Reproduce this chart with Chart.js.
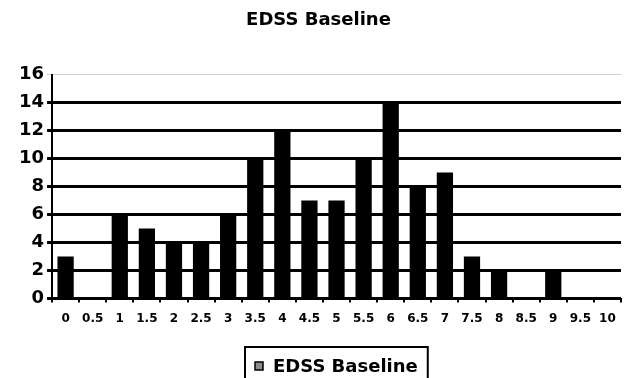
<!DOCTYPE html>
<html>
<head>
<meta charset="utf-8">
<script src="https://cdn.jsdelivr.net/npm/chart.js@4.4.1/dist/chart.umd.min.js"></script>
<style>
  html, body { margin: 0; padding: 0; background: #fff; }
  #wrap { width: 625px; height: 378px; }
</style>
</head>
<body>
<div id="wrap"><canvas id="c" width="625" height="378"></canvas></div>
<script>
// EDSS scores at baseline and number of patients per score
const categories = ['0','0.5','1','1.5','2','2.5','3','3.5','4','4.5','5','5.5','6','6.5','7','7.5','8','8.5','9','9.5','10'];
const patientCounts = [3, 0, 6, 5, 4, 4, 6, 10, 12, 7, 7, 10, 14, 8, 9, 3, 2, 0, 2, 0, 0];
const yTicks = [0, 2, 4, 6, 8, 10, 12, 14, 16];
const seriesName = 'EDSS Baseline';

const FONT = '"DejaVu Sans", "Liberation Sans", Arial, sans-serif';

// Framed legend entry below the axis; the frame runs off the bottom edge
const boxedLegend = {
  id: 'boxedLegend',
  afterDraw(chart) {
    const ctx = chart.ctx;
    const ds = chart.data.datasets[0];
    ctx.save();
    ctx.font = 'bold 18px ' + FONT;
    const textW = ctx.measureText(ds.label).width;
    const markerX = 255, markerSize = 8, gap = 10, padX = 10;
    const frameLeft = markerX - padX;
    const frameRight = markerX + markerSize + gap + textW + padX;
    const frameTop = 347, midY = 366;
    ctx.strokeStyle = '#000';
    ctx.lineWidth = 2;
    ctx.strokeRect(frameLeft, frameTop, frameRight - frameLeft, chart.height - frameTop + 10);
    ctx.fillStyle = '#8c8c8c';
    ctx.fillRect(markerX, midY - markerSize / 2, markerSize, markerSize);
    ctx.lineWidth = 1.5;
    ctx.strokeRect(markerX, midY - markerSize / 2, markerSize, markerSize);
    ctx.fillStyle = '#000';
    ctx.textBaseline = 'middle';
    ctx.textAlign = 'left';
    ctx.fillText(ds.label, markerX + markerSize + gap, midY + 1);
    ctx.restore();
  }
};

new Chart(document.getElementById('c'), {
  type: 'bar',
  data: {
    labels: categories,
    datasets: [{
      label: seriesName,
      data: patientCounts,
      backgroundColor: '#000',
      borderWidth: 0,
      categoryPercentage: 1.0,
      barPercentage: 0.6
    }]
  },
  plugins: [boxedLegend],
  options: {
    responsive: false,
    animation: false,
    devicePixelRatio: 1,
    layout: { padding: { left: 16, right: 4, top: 0, bottom: 43 } },
    plugins: {
      tooltip: { enabled: false },
      legend: { display: false },
      title: {
        display: true,
        text: seriesName,
        color: '#000',
        font: { family: FONT, size: 18, weight: 'bold' },
        padding: { top: 10, bottom: 43 }
      }
    },
    scales: {
      x: {
        offset: true,
        grid: {
          offset: true,
          drawOnChartArea: false,
          drawTicks: true,
          tickLength: 4,
          color: '#000',
          lineWidth: 2
        },
        border: { color: '#000', width: 2 },
        ticks: {
          color: '#000',
          font: { family: FONT, size: 12, weight: 'bold' },
          maxRotation: 0,
          autoSkip: false,
          padding: 9
        }
      },
      y: {
        min: 0,
        max: 16,
        afterBuildTicks(axis) { axis.ticks = yTicks.map(v => ({ value: v })); },
        grid: {
          color: ctx => (ctx.tick && ctx.tick.value === 16) ? '#d0d0d0' : '#000',
          lineWidth: ctx => (ctx.tick && ctx.tick.value === 16) ? 1 : 3,
          drawTicks: true,
          tickLength: 5
        },
        border: { color: '#000', width: 2 },
        ticks: {
          color: '#000',
          font: { family: FONT, size: 18, weight: 'bold' },
          padding: 3
        }
      }
    }
  }
});
</script>
</body>
</html>
